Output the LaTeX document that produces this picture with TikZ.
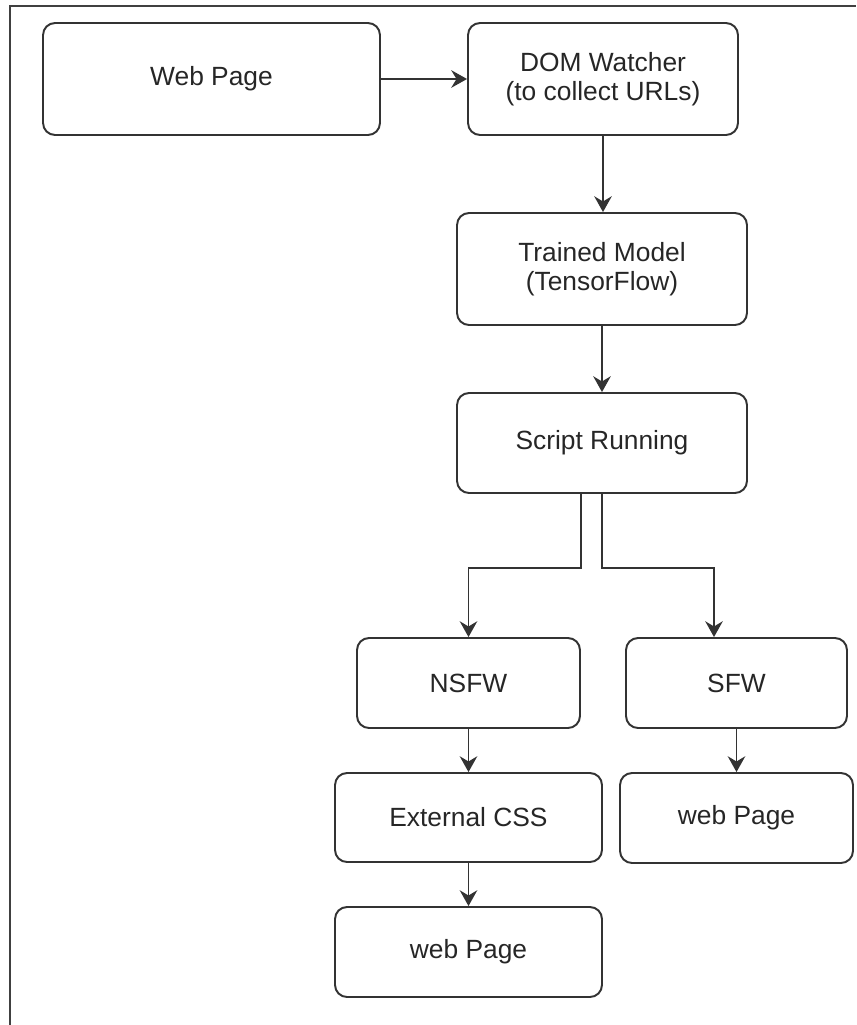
\documentclass[tikz,border=0pt]{standalone}
\usepackage{fontspec}
\setmainfont{Liberation Sans}
\usetikzlibrary{arrows.meta}

\tikzset{
  box/.style={draw=black!80, line width=1.1pt, rounded corners=0.24cm,
    align=center, text=black!85, font=\fontsize{15}{16.5}\selectfont},
  arr/.style={draw=black!80, line width=1.1pt,
    -{Stealth[length=9pt, width=10pt, inset=3pt]}}
}

\begin{document}
\begin{tikzpicture}[x=0.02cm, y=-0.02cm]
        \useasboundingbox (0,0) rectangle (856,1025);

        % Frame
        \draw[black!75, line width=1.1pt] (10,1025) -- (10,6) -- (856,6);

        % Nodes
        \node[box, minimum width=6.74cm, minimum height=2.24cm] (webpage) at (211.5, 79) {Web Page};
        \node[box, minimum width=5.4cm, minimum height=2.24cm] (dom) at (603, 79) {DOM Watcher\\(to collect URLs)};
        \node[box, minimum width=5.8cm, minimum height=2.24cm] (model) at (602, 269) {Trained Model\\(TensorFlow)};
        \node[box, minimum width=5.8cm, minimum height=2.0cm] (script) at (602, 443) {Script Running};
        \node[box, minimum width=4.46cm, minimum height=1.8cm] (nsfw) at (468.5, 683) {NSFW};
        \node[box, minimum width=4.42cm, minimum height=1.8cm] (sfw) at (736.5, 683) {SFW};
        \node[box, minimum width=5.34cm, minimum height=1.78cm] (css) at (468.5, 817.5) {External CSS};
        \node[box, minimum width=4.66cm, minimum height=1.8cm] (webR) at (736.5, 818) {web Page};
        \node[box, minimum width=5.34cm, minimum height=1.8cm] (webB) at (468.5, 952) {web Page};

        % Edges
        \draw[arr] (webpage) -- (dom);
        \draw[arr] (dom.south) -- (dom.south |- model.north);
        \draw[arr] (model) -- (script);
        \draw[arr] ([xshift=-0.42cm]script.south) -- ++(0,74) -| (nsfw.north);
        \draw[arr] (script.south) -- ++(0,74) -| ([xshift=-0.45cm]sfw.north);
        \draw[arr] (nsfw) -- (css);
        \draw[arr] (sfw) -- (webR);
        \draw[arr] (css) -- (webB);
    \end{tikzpicture}
\end{document}
